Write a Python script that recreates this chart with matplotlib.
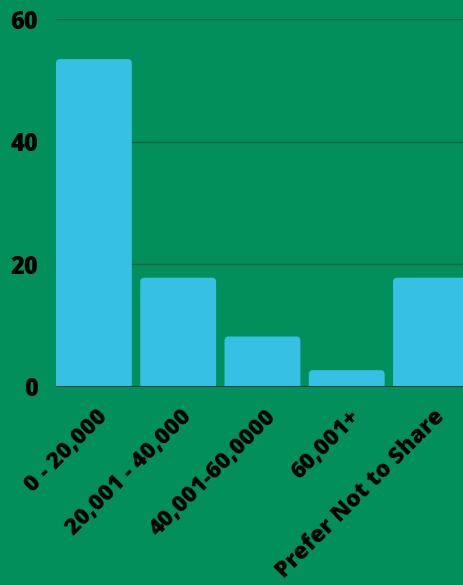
import matplotlib
matplotlib.use("Agg")
import matplotlib.pyplot as plt
from matplotlib.patches import FancyBboxPatch
from matplotlib import transforms

# income brackets (share of respondents, %)
categories = ["0 - 20,000", "20,001 - 40,000", "40,001-60,0000", "60,001+", "Prefer Not to Share"]
values = [53.5, 17.8, 8.2, 2.7, 17.8]
yticks = [0, 20, 40, 60]

bg = "#028f5c"
bar_color = "#36c1e4"

plt.rcParams['font.family'] = ['Open Sans', 'DejaVu Sans']

fig = plt.figure(figsize=(4.63, 5.85), dpi=100, facecolor=bg)
ax = fig.add_axes([56 / 463, 1 - 386.7 / 585, 1 - 56 / 463, (386.7 - 19.3) / 585])
ax.set_facecolor(bg)

x = list(range(len(categories)))
bars = ax.bar(x, values, width=0.9, color=bar_color, zorder=3)

# swap plain bars for rounded-top ones (bottom hidden under the axis)
for b in bars:
    b.set_visible(False)
    rp = FancyBboxPatch((b.get_x(), -2), b.get_width(), b.get_height() + 2,
                        boxstyle="round,pad=0,rounding_size=0.05",
                        mutation_aspect=13.7, facecolor=bar_color,
                        edgecolor="none", zorder=3)
    ax.add_patch(rp)

ax.set_xlim(-0.45, 4.38)
ax.set_ylim(0, 60)
ax.set_yticks(yticks)
ax.set_yticklabels([str(t) for t in yticks], fontsize=17, fontweight=800)
ax.grid(axis='y', color='#17603d', linewidth=1, zorder=0)
ax.axhline(0, color='#1a3527', linewidth=2, zorder=4)

# x labels drawn by hand so the offset sticks
ax.set_xticks(x)
ax.set_xticklabels([])
trans = transforms.blended_transform_factory(ax.transData, ax.transAxes)
off = transforms.ScaledTranslation(10 / 100, -27 / 100, fig.dpi_scale_trans)
for xi, lab in zip(x, categories):
    ax.text(xi, 0, lab, transform=trans + off, fontsize=16.5, fontweight=800,
            rotation=45, ha='right', va='center', rotation_mode='anchor',
            clip_on=False)

ax.tick_params(axis='both', length=0)
ax.tick_params(axis='y', pad=13)
for s in ax.spines.values():
    s.set_visible(False)

fig.savefig("out.png", dpi=100, facecolor=bg)
